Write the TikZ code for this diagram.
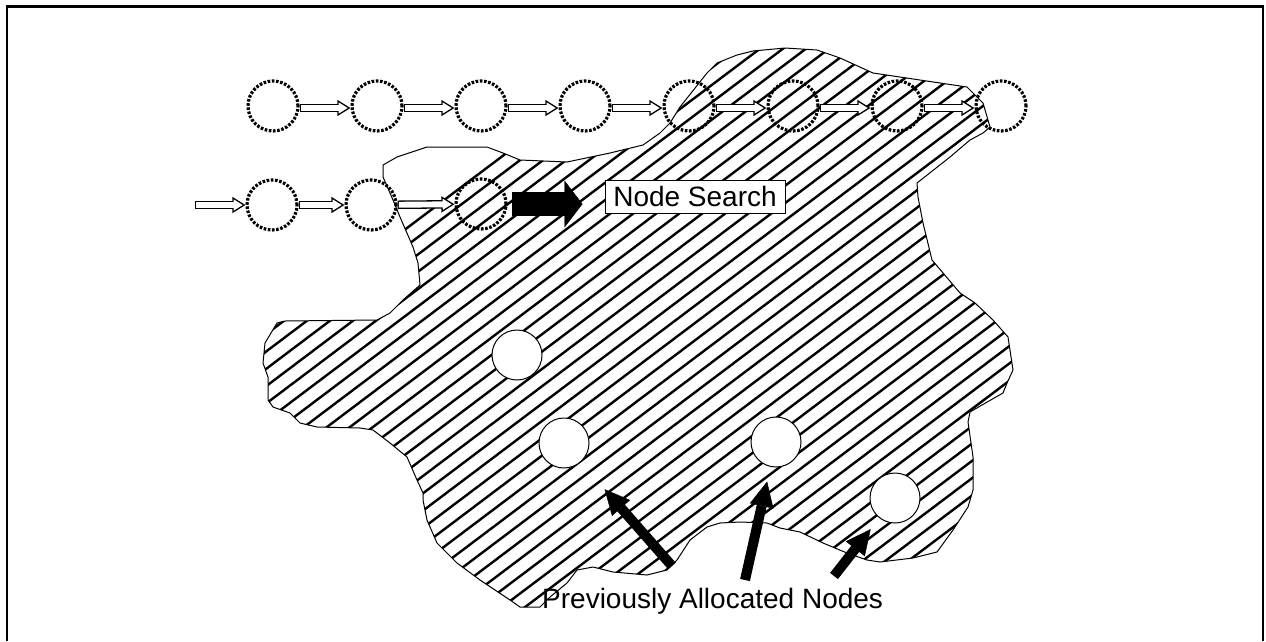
\documentclass[tikz,border=0pt]{standalone}
\usepackage{fontspec}
\setmainfont{Liberation Sans}
\usetikzlibrary{arrows.meta}
\begin{document}
\begin{tikzpicture}[x=1pt,y=-1pt,
  dcirc/.style={circle, draw, line width=3.2pt, dash pattern=on 2.6pt off 1.6pt,
                minimum size=50pt, inner sep=0pt},
  wcirc/.style={circle, draw, line width=1pt, fill=white, minimum size=50pt, inner sep=0pt},
  hollowarrow/.style={line width=8.5pt,
     -{Triangle[length=13pt,width=16pt,fill=white,line width=1.3pt]},
     postaction={draw=white, line width=5.9pt, -, shorten >=11pt, shorten <=1.3pt}},
  bigarrow/.style={line width=24pt, -{Triangle[length=18pt,width=47pt,line width=0.4pt]}},
  blackarrow/.style={line width=10pt, -{Triangle[length=25pt,width=24pt,line width=0.4pt]}},
  hatch/.style={line width=2.4pt},
  label/.style={font=\fontsize{28}{32}\selectfont}
]
\useasboundingbox (0,0) rectangle (1266,641);

% outer frame
\draw[line width=2.4pt] (7,641) -- (7,6.5) -- (1263,6.5) -- (1263,641);

% region of allocated memory
\path[save path=\blobpath] (403,300) -- (420,285) -- (418,263) -- (413,247) -- (400,217)
  -- (393,200) -- (383,177) -- (383,165) -- (397,157) -- (427,147) -- (487,147)
  -- (503,153) -- (520,160) -- (567,162) -- (610,153) -- (643,145) -- (660,133)
  -- (670,123) -- (680,107) -- (707,73) -- (717,63) -- (737,55) -- (753,51)
  -- (785,48) -- (817,50) -- (840,58) -- (873,73) -- (940,83) -- (967,87)
  -- (983,103) -- (990,127) -- (983,133) -- (970,140) -- (950,157) -- (917,183)
  -- (918,197) -- (923,223) -- (932,260) -- (960,293) -- (975,303) -- (993,320)
  -- (1008,337) -- (1013,370) -- (1007,383) -- (1003,393) -- (982,405) -- (970,412)
  -- (968,422) -- (973,457) -- (973,490) -- (968,507) -- (953,530) -- (937,552)
  -- (913,558) -- (880,562) -- (867,560) -- (847,553) -- (823,543) -- (800,532)
  -- (780,528) -- (767,523) -- (740,522) -- (720,523) -- (707,527) -- (690,540)
  -- (677,560) -- (670,567) -- (667,570) -- (647,575) -- (613,572) -- (593,567)
  -- (577,570) -- (567,583) -- (550,597) -- (540,607) -- (520,607) -- (510,600)
  -- (480,580) -- (457,563) -- (437,543) -- (427,520) -- (423,500) -- (423,493)
  -- (417,480) -- (407,457) -- (390,443) -- (373,430) -- (360,428) -- (317,427)
  -- (300,423) -- (290,413) -- (273,407) -- (268,400) -- (268,377) -- (263,363)
  -- (265,343) -- (277,323) -- (285,321) -- (377,320) -- (390,313) -- cycle;
\begin{scope}
  \clip[use path=\blobpath];
  \foreach \k in {0,...,52}
    \draw[hatch] ({-166.2+23*\k},660) -- ({736.1+23*\k},-20);
\end{scope}
\draw[line width=1pt, line join=round, use path=\blobpath];

% list being searched (top row)
\foreach \i in {1,...,8}
  \node[dcirc] (t\i) at ({273+104*(\i-1)},106) {};
\foreach \i [evaluate=\i as \j using int(\i+1)] in {1,...,7}
  \draw[hollowarrow] ([yshift=-2pt]t\i.east) -- ([yshift=-2pt]t\j.west);

% second row with search position
\coordinate (in) at (195,205);
\node[dcirc] (a) at (272,205) {};
\node[dcirc] (b) at (371,205) {};
\node[dcirc] (c) at (481,204) {};
\draw[hollowarrow] (in) -- (a);
\draw[hollowarrow] (a) -- (b);
\draw[hollowarrow] (b) -- (c);

% label and search arrow
\node[label, draw, fill=white, line width=1pt, minimum width=180pt, minimum height=33pt,
      inner sep=0pt] (ns) at (695,196.5) {Node Search};
\draw[bigarrow, shorten <=4pt, shorten >=22pt] (c.east) -- (c.east -| ns.west);

% previously allocated nodes
\node[wcirc] (p1) at (517,355) {};
\node[wcirc] (p2) at (564,443) {};
\node[wcirc] (p3) at (776,442) {};
\node[wcirc] (p4) at (895,498) {};

\node[label, anchor=base west, inner sep=0pt] (pa) at (542,608) {Previously Allocated Nodes};

\coordinate (s1) at (672,566);
\coordinate (s2) at (745,580);
\coordinate (s3) at (834,576);
\draw[blackarrow, shorten >=36pt] (s1) -- (p2);
\draw[blackarrow, shorten >=15pt] (s2) -- (p3);
\draw[blackarrow, shorten >=14pt] (s3) -- (p4);
\end{tikzpicture}
\end{document}
